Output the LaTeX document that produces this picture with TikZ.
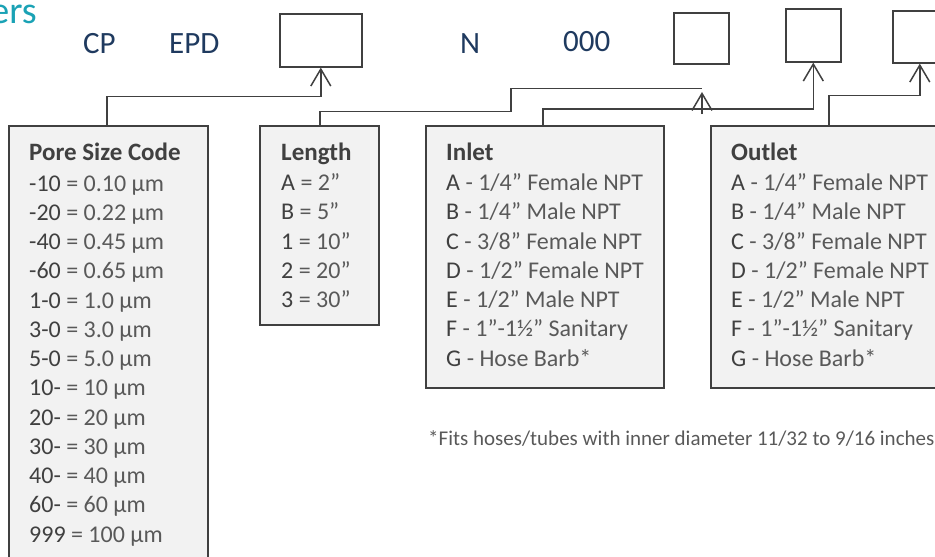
\documentclass[tikz,border=0pt]{standalone}
\usepackage{fontspec}
\setmainfont{Carlito}
\usetikzlibrary{arrows.meta,calc}
\definecolor{dk}{HTML}{404040}
\definecolor{md}{HTML}{595959}
\definecolor{navy}{HTML}{1F3A5F}
\definecolor{hdteal}{HTML}{1AA2B5}
\definecolor{boxfill}{HTML}{F2F2F2}
\tikzset{
  codebox/.style={draw=dk, line width=1.6pt, fill=boxfill, anchor=north west, inner sep=0pt},
  topbox/.style={draw=dk, line width=1.6pt, fill=white, anchor=north west, inner sep=0pt},
  conn/.style={draw=dk, line width=1.5pt},
  arr/.style={conn, -{Straight Barb[length=17pt,width=20pt]}},
  txt/.style={anchor=base west, inner sep=0pt, text=md, font=\fontsize{24}{29}\selectfont},
  ttl/.style={anchor=base west, inner sep=0pt, text=dk, font=\fontsize{25}{29}\selectfont\bfseries},
  codetxt/.style={anchor=base west, inner sep=0pt, text=navy, font=\fontsize{31}{36}\selectfont},
}
\begin{document}
\begin{tikzpicture}[x=1pt,y=-1pt]
\useasboundingbox (0,0) rectangle (935,557);
\clip (0,0) rectangle (935,557);

% heading fragment and part-number codes
\node[anchor=base east, inner sep=0pt, text=hdteal, font=\fontsize{38}{44}\selectfont] (head) at (37,23) {ers};
\node[codetxt] (cp) at (83,53) {CP};
\node[codetxt] (epd) at (169,53) {EPD};
\node[codetxt] (nn) at (460,53) {N};
\node[codetxt] (zz) at (563,51) {000};

% top boxes
\node[topbox, minimum width=82pt, minimum height=53pt] (box1) at (279,13) {};
\node[topbox, minimum width=55pt, minimum height=51pt] (box2) at (673,12) {};
\node[topbox, minimum width=55pt, minimum height=53pt] (box3) at (785,8) {};
\node[topbox, minimum width=54pt, minimum height=52pt] (box4) at (892,10) {};

% code boxes
\node[codebox, minimum width=199pt, minimum height=450pt] (pore) at (8,125) {};
\node[codebox, minimum width=119pt, minimum height=199pt] (len) at (259,125) {};
\node[codebox, minimum width=238pt, minimum height=262pt] (inlet) at (425,125) {};
\node[codebox, minimum width=240pt, minimum height=262pt] (outlet) at (710,125) {};

% pore size text
\node[ttl] (pt) at (29,160) {Pore Size Code};
\foreach \c/\v [count=\k from 0] in {-10/0.10, -20/0.22, -40/0.45, -60/0.65, 1-0/1.0, 3-0/3.0, 5-0/5.0, 10-/10, 20-/20, 30-/30, 40-/40, 60-/60, 999/100}
  \node[txt] (p\k) at (29,191+29.25*\k) {{\color{dk}\c} = \v\ µm};

% length text
\node[ttl] (lt) at (281,160) {Length};
\foreach \c/\v [count=\k from 0] in {A/2, B/5, 1/10, 2/20, 3/30}
  \node[txt] (l\k) at (281,190.5+29.25*\k) {{\color{dk}\c} = \v”};

% inlet / outlet text
\foreach \bx/\x/\t in {i/446/Inlet, o/731/Outlet}{
  \node[ttl] (\bx t) at (\x,160) {\t};
  \foreach \c/\v [count=\k from 0] in {A/{1/4” Female NPT}, B/{1/4” Male NPT}, C/{3/8” Female NPT}, D/{1/2” Female NPT}, E/{1/2” Male NPT}, F/{1”-1½” Sanitary}, G/{Hose Barb*}}
    \node[txt] (\bx\k) at (\x,190.5+29.25*\k) {{\color{dk}\c} - \v};
}

% footnote
\node[anchor=base west, inner sep=0pt, text=md, font=\fontsize{21}{25}\selectfont] (foot) at (428,445) {*Fits hoses/tubes with inner diameter 11/32 to 9/16 inches};

% connectors
\draw[arr] ($(pore.north west)+(99,0)$) |- ($(box1.south)+(0,29)$) -- (box1.south);

\coordinate (lenend) at (702,88.5);
\draw[conn] ($(len.north west)+(61,0)$) -- ++(0,-13.5) -| (511,88.5) -- (lenend);
\coordinate (stubbase) at (702,114);
\coordinate (stubtip) at (702,92);
\draw[arr] (stubbase) -- (stubtip);

\draw[arr] ($(inlet.north west)+(118,0)$) |- ($(box3.south)+(0,46.5)$) -- (box3.south);
\draw[arr] ($(outlet.north west)+(119,0)$) |- ($(box4.south)+(0,32)$) -- (box4.south);
\end{tikzpicture}
\end{document}
